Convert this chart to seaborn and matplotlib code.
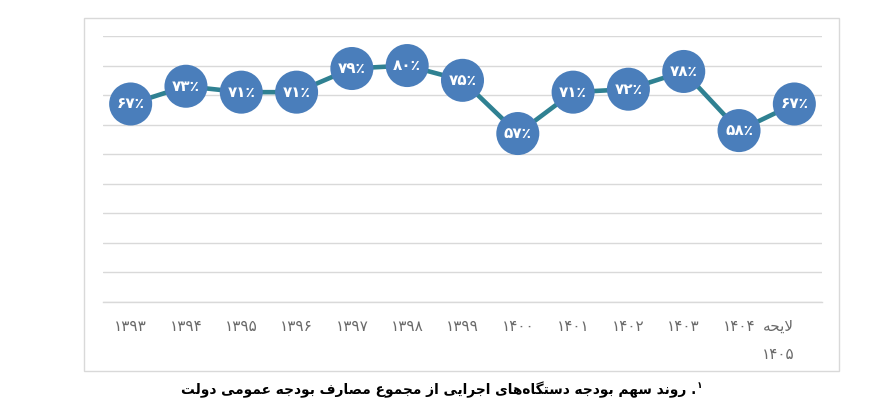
import numpy as np
import pandas as pd
import matplotlib
matplotlib.use("Agg")
import matplotlib.pyplot as plt
import matplotlib.transforms as mtransforms
from matplotlib.patches import Rectangle
import seaborn as sns

# ---------------- data ----------------
year_labels = ['۱۳۹۳', '۱۳۹۴', '۱۳۹۵', '۱۳۹۶', '۱۳۹۷', '۱۳۹۸', '۱۳۹۹',
               '۱۴۰۰', '۱۴۰۱', '۱۴۰۲', '۱۴۰۳', '۱۴۰۴', 'لایحه ۱۴۰۵']
share_pct = [67, 73, 71, 71, 79, 80, 75, 57, 71, 72, 78, 58, 67]
caption = 'روند سهم بودجه دستگاه\u200cهای اجرایی از مجموع مصارف بودجه عمومی دولت'
footnote_no = '۱'

# ---------------- minimal Arabic-script shaping ----------------
FORMS = {  # isolated, final, initial, medial
    '\u0627': ('\uFE8D', '\uFE8E', None, None),
    '\u0628': ('\uFE8F', '\uFE90', '\uFE91', '\uFE92'),
    '\u062A': ('\uFE95', '\uFE96', '\uFE97', '\uFE98'),
    '\u062C': ('\uFE9D', '\uFE9E', '\uFE9F', '\uFEA0'),
    '\u062D': ('\uFEA1', '\uFEA2', '\uFEA3', '\uFEA4'),
    '\u062F': ('\uFEA9', '\uFEAA', None, None),
    '\u0631': ('\uFEAD', '\uFEAE', None, None),
    '\u0632': ('\uFEAF', '\uFEB0', None, None),
    '\u0633': ('\uFEB1', '\uFEB2', '\uFEB3', '\uFEB4'),
    '\u0635': ('\uFEB9', '\uFEBA', '\uFEBB', '\uFEBC'),
    '\u0639': ('\uFEC9', '\uFECA', '\uFECB', '\uFECC'),
    '\u0641': ('\uFED1', '\uFED2', '\uFED3', '\uFED4'),
    '\u0644': ('\uFEDD', '\uFEDE', '\uFEDF', '\uFEE0'),
    '\u0645': ('\uFEE1', '\uFEE2', '\uFEE3', '\uFEE4'),
    '\u0646': ('\uFEE5', '\uFEE6', '\uFEE7', '\uFEE8'),
    '\u0647': ('\uFEE9', '\uFEEA', '\uFEEB', '\uFEEC'),
    '\u0648': ('\uFEED', '\uFEEE', None, None),
    '\u06CC': ('\uFEEF', '\uFEF0', '\uFEF3', '\uFEF4'),
    '\u06AF': ('\uFB92', '\uFB93', '\uFB94', '\uFB95'),
}


def shape_word(word):
    ch = list(word)
    n = len(ch)
    out = []
    i = 0

    def dual(c):
        return c in FORMS and FORMS[c][2] is not None

    while i < n:
        c = ch[i]
        if c not in FORMS:
            if c != '\u200c':
                out.append(c)
            i += 1
            continue
        prev = i > 0 and dual(ch[i - 1])
        if c == '\u0644' and i + 1 < n and ch[i + 1] == '\u0627':
            out.append('\uFEFC' if prev else '\uFEFB')
            i += 2
            continue
        nxt = dual(c) and i + 1 < n and ch[i + 1] in FORMS
        iso, fin, ini, med = FORMS[c]
        if prev and nxt:
            out.append(med)
        elif prev:
            out.append(fin)
        elif nxt:
            out.append(ini)
        else:
            out.append(iso)
        i += 1
    return ''.join(reversed(out))


def shape_rtl(text):
    return ' '.join(shape_word(w) for w in reversed(text.split(' ')))


def fa_digits(s):
    return s.translate(str.maketrans('0123456789', '۰۱۲۳۴۵۶۷۸۹'))


def tick_text(lbl):
    parts = lbl.split(' ')
    if len(parts) == 2:
        return shape_word(parts[0]) + '\n' + parts[1]
    return lbl


# ---------------- style ----------------
sns.set_style('white')
plt.rcParams['font.family'] = ['DejaVu Sans']

W, H = 878, 409
fig = plt.figure(figsize=(W / 100, H / 100), dpi=100)
fig.patch.set_facecolor('white')

ax = fig.add_axes([103 / W, 107 / H, 719 / W, 266 / H])

df = pd.DataFrame({'pos': np.arange(len(share_pct)),
                   'share': np.array(share_pct) / 100.0})

LINE_C = '#2F8192'
DOT_C = '#4A7EBB'

sns.lineplot(data=df, x='pos', y='share', color=LINE_C, linewidth=3.3,
             ax=ax, zorder=2)
sns.scatterplot(data=df, x='pos', y='share', s=960, color=DOT_C,
                edgecolor='none', linewidth=0, ax=ax, zorder=3, clip_on=False)

for p, v in zip(df['pos'], share_pct):
    ax.text(p, v / 100.0, fa_digits(str(v)) + '٪', ha='center', va='center',
            color='white', fontweight='bold', fontsize=11, zorder=4)

ax.set_xlim(-0.5, len(share_pct) - 0.5)
ax.set_ylim(0, 0.9)
ax.set_yticks(np.arange(0, 0.91, 0.1))
ax.set_yticklabels([])
ax.yaxis.grid(True, color='#d9d9d9', linewidth=1)
ax.xaxis.grid(False)
ax.set_xticks(df['pos'])
ax.set_xticklabels([tick_text(l) for l in year_labels], fontsize=11,
                   color='#6a6a6a')
ax.tick_params(axis='both', length=0)
ax.tick_params(axis='x', pad=12)
for s in ['top', 'left', 'right']:
    ax.spines[s].set_visible(False)
ax.spines['bottom'].set_color('#d9d9d9')
ax.spines['bottom'].set_linewidth(1)
ax.set_xlabel('')
ax.set_ylabel('')

last = ax.get_xticklabels()[-1]
last.set_linespacing(2.1)
last.set_transform(last.get_transform() +
                   mtransforms.ScaledTranslation(-16 / 100, 0, fig.dpi_scale_trans))

# outer frame
fig.patches.append(Rectangle((84 / W, 1 - 371 / H), (839 - 84) / W, (371 - 18) / H,
                             transform=fig.transFigure, fill=False,
                             edgecolor='#d9d9d9', linewidth=1))

# caption
fig.text(696 / W, 1 - 390 / H, shape_rtl(caption) + ' .', ha='right', va='center',
         fontsize=9.9, fontweight='bold', color='black')
fig.text(697 / W, 1 - 385 / H, footnote_no, ha='left', va='center',
         fontsize=6.5, fontweight='bold', color='black')

fig.savefig('out.png', dpi=100, facecolor='white')
